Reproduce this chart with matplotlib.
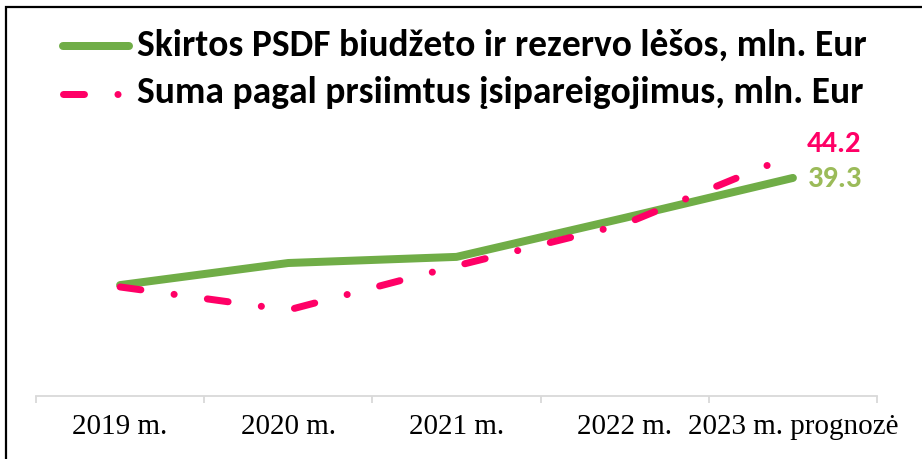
import matplotlib
matplotlib.use("Agg")
import matplotlib.pyplot as plt
from matplotlib.lines import Line2D
from matplotlib.patches import Rectangle
from matplotlib.ticker import FixedLocator

categories = ["2019 m.", "2020 m.", "2021 m.", "2022 m.", "2023 m. prognozė"]
allocated = [16.5, 21.2, 22.5, 30.8, 39.3]
commitments = [16.1, 11.2, 20.6, 29.5, 44.2]
series_names = ["Skirtos PSDF biudžeto ir rezervo lėšos, mln. Eur",
                "Suma pagal prsiimtus įsipareigojimus, mln. Eur"]

GREEN = "#70AD47"
GREEN_LBL = "#9BBB59"
PINK = "#FF0066"

W, H = 922, 459
fig = plt.figure(figsize=(W / 100, H / 100), dpi=100)
ax = fig.add_axes([36 / W, 1 - 396 / H, (877 - 36) / W, (396 - 130) / H])

x = list(range(len(categories)))
lw_g = 8 * 0.72
lw_p = 7 * 0.72
dash = (0, (15.1 / lw_p, 24.1 / lw_p, 0.1 / lw_p, 24.1 / lw_p))
line_styles = [dict(color=GREEN, lw=lw_g, solid_capstyle="round", solid_joinstyle="round"),
               dict(color=PINK, lw=lw_p, linestyle=dash, dash_capstyle="round")]

ax.plot(x, allocated, zorder=3, label=series_names[0], **line_styles[0])
ax.plot(x, commitments, zorder=4, label=series_names[1], **line_styles[1])

ax.set_xlim(-0.5, len(categories) - 0.5)
ax.set_ylim(-7.1, 49.5)

for s in ["top", "right", "left"]:
    ax.spines[s].set_visible(False)
ax.spines["bottom"].set_color("#D9D9D9")
ax.spines["bottom"].set_linewidth(1.3)
ax.set_yticks([])
ax.set_xticks(x)
ax.set_xticklabels(categories, fontfamily="Liberation Serif", fontsize=21)
ax.tick_params(axis="x", which="major", length=0, pad=13)
ax.xaxis.set_minor_locator(FixedLocator([i - 0.5 for i in range(len(categories) + 1)]))
ax.tick_params(axis="x", which="minor", length=5, width=1.3, color="#D9D9D9")

lbl_font = ["Carlito", "Liberation Sans Narrow", "DejaVu Sans"]
ax.annotate(f"{commitments[-1]:.1f}", (x[-1], commitments[-1]), xytext=(10, 8),
            textcoords="offset points", ha="left", va="center", color=PINK,
            fontsize=22, fontweight="bold", family=lbl_font)
ax.annotate(f"{allocated[-1]:.1f}", (x[-1], allocated[-1]), xytext=(11, -0.5),
            textcoords="offset points", ha="left", va="center", color=GREEN_LBL,
            fontsize=22, fontweight="bold", family=lbl_font)

# legend (drawn manually in figure pixels)
leg_rows = [(46, 56), (94, 103)]  # (sample line y, text baseline y)
for (ly, by), name, st in zip(leg_rows, series_names, line_styles):
    fig.add_artist(Line2D([63 / W, 129 / W], [1 - ly / H, 1 - ly / H],
                          transform=fig.transFigure, **st))
    fig.text(137 / W, 1 - by / H, name, family=lbl_font, fontweight="bold",
             fontsize=27, va="baseline", ha="left")

fig.add_artist(Rectangle((6 / W, -0.1), 1.2, 1.1 - 7 / H, transform=fig.transFigure,
                         fill=False, edgecolor="black", lw=1.6))

fig.savefig("out.png", dpi=100)
